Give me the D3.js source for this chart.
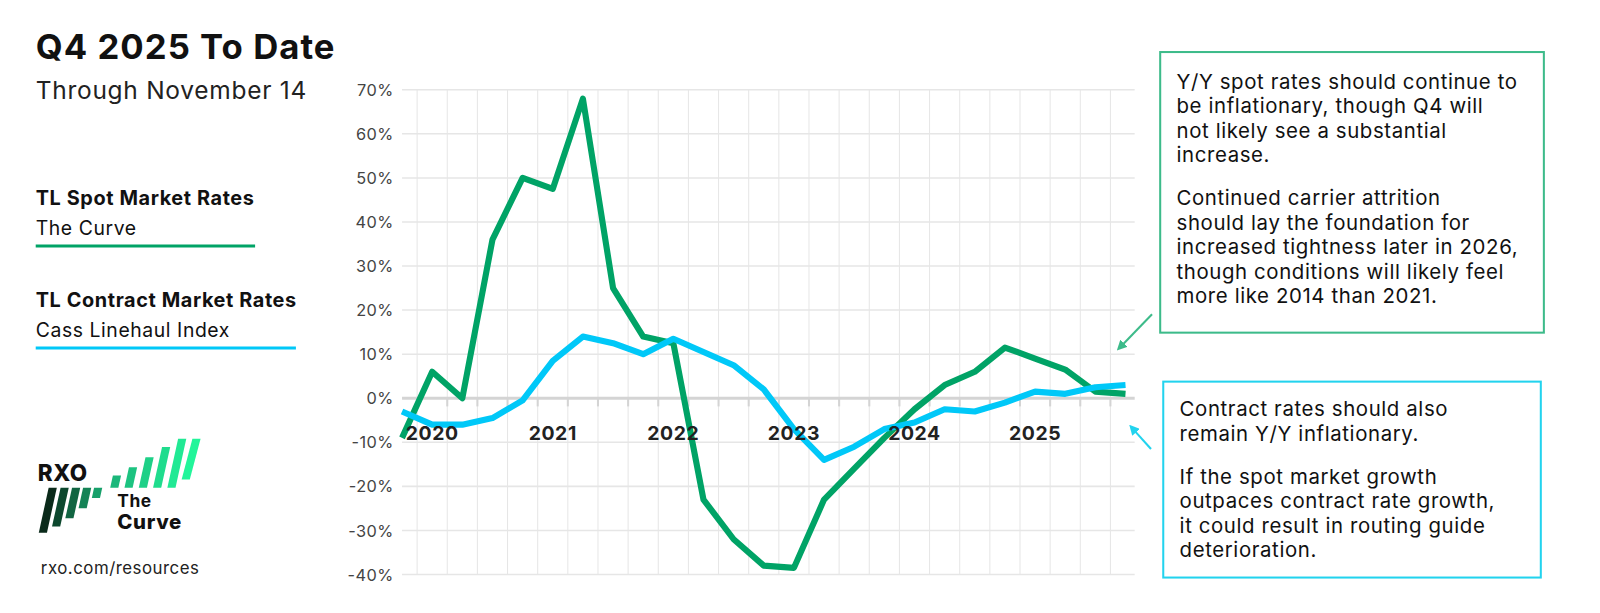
<!DOCTYPE html>
<html>
<head>
<meta charset="utf-8">
<script src="https://cdn.jsdelivr.net/npm/d3@7"></script>
<style>
  body { margin: 0; background: #fff; font-family: "Inter", "Noto Sans", sans-serif; }
  text { letter-spacing: 0.03em; }
</style>
</head>
<body>
<svg id="chart" width="1600" height="613"></svg>
<script>
// quarterly Y/Y change, %
var spot = [-9, 6, 0, 36, 50, 47.5, 68, 25, 14, 12.5, -23, -32, -38, -38.5, -23, -16, -9, -2.5, 3, 6, 11.5, 9, 6.5, 1.5, 1];
var contract = [-3, -6, -6, -4.5, -0.5, 8.5, 14, 12.5, 10, 13.5, 10.5, 7.5, 2, -7, -14, -11, -7, -5.5, -2.5, -3, -1, 1.5, 1, 2.5, 3];
var years = ["2020", "2021", "2022", "2023", "2024", "2025"];
var yearIdx = [1, 5, 9, 13, 17, 21];
var yTicks = [70, 60, 50, 40, 30, 20, 10, 0, -10, -20, -30, -40];

var green = "#00a366", blue = "#00c8f8";
var svg = d3.select("#chart").append("g").attr("transform", "scale(1.0204)");

var x = d3.scaleLinear().domain([0, 24]).range([394, 1103]);
var y = d3.scaleLinear().domain([-40, 70]).range([563, 88]);

// grid
var g = svg.append("g");
g.selectAll("line.v").data(d3.range(24)).enter().append("line")
    .attr("x1", function(d) { return x(d + 0.5); })
    .attr("x2", function(d) { return x(d + 0.5); })
    .attr("y1", y(70)).attr("y2", y(-40))
    .attr("stroke", "#e6e6e6").attr("stroke-width", 1);
g.selectAll("line.h").data(yTicks).enter().append("line")
    .attr("x1", x(0)).attr("x2", 1112)
    .attr("y1", function(d) { return y(d); })
    .attr("y2", function(d) { return y(d); })
    .attr("stroke", function(d) { return d === 0 ? "#d4d4d4" : "#e6e6e6"; })
    .attr("stroke-width", function(d) { return d === 0 ? 3 : 1.5; });
g.selectAll("line.t").data(d3.range(24)).enter().append("line")
    .attr("x1", function(d) { return x(d + 0.5); })
    .attr("x2", function(d) { return x(d + 0.5); })
    .attr("y1", y(0)).attr("y2", y(0) + 8)
    .attr("stroke", "#d4d4d4").attr("stroke-width", 2);

g.selectAll("text.y").data(yTicks).enter().append("text")
    .attr("x", 386).attr("y", function(d) { return y(d) + 6; })
    .attr("text-anchor", "end").attr("font-size", 16).attr("fill", "#444")
    .text(function(d) { return d + "%"; });

// lines
var line = d3.line().x(function(d, i) { return x(i); }).y(function(d) { return y(d); });
svg.append("path").datum(spot).attr("d", line).attr("fill", "none")
    .attr("stroke", green).attr("stroke-width", 6).attr("stroke-linejoin", "round");
svg.append("path").datum(contract).attr("d", line).attr("fill", "none")
    .attr("stroke", blue).attr("stroke-width", 6).attr("stroke-linejoin", "round");

svg.selectAll("text.yr").data(years).enter().append("text")
    .attr("x", function(d, i) { return x(yearIdx[i]); }).attr("y", 431)
    .attr("text-anchor", "middle").attr("font-size", 19).attr("font-weight", 700)
    .attr("fill", "#222").text(function(d) { return d; });

// titles and legend
function txt(s, xx, yy, size, weight, fill) {
  return svg.append("text").attr("x", xx).attr("y", yy).attr("font-size", size)
    .attr("font-weight", weight || 400).attr("fill", fill || "#111").text(s);
}
txt("Q4 2025 To Date", 35, 58, 34, 700);
txt("Through November 14", 35, 97, 24, 400, "#222");
txt("TL Spot Market Rates", 35, 201, 19.5, 700);
txt("The Curve", 35, 230, 19, 400);
svg.append("line").attr("x1", 35).attr("x2", 250).attr("y1", 241).attr("y2", 241)
    .attr("stroke", green).attr("stroke-width", 3);
txt("TL Contract Market Rates", 35, 301, 19.5, 700);
txt("Cass Linehaul Index", 35, 330, 19, 400);
svg.append("line").attr("x1", 35).attr("x2", 290).attr("y1", 341).attr("y2", 341)
    .attr("stroke", blue).attr("stroke-width", 3);

// logo
txt("RXO", 37, 471, 22, 800, "#111");
var darkBot = [522, 516, 508, 498, 488];
svg.selectAll("polygon.dk").data(d3.range(5)).enter().append("polygon")
    .attr("points", function(i) {
      var bx = 38 + i * 13, top = 478, bot = darkBot[i], s = (bot - top) * 0.22;
      return [[bx + s, top], [bx + s + 8, top], [bx + 8, bot], [bx, bot]].join(" ");
    })
    .attr("fill", function(i) { return d3.interpolateRgb("#0a2a1a", "#17a06a")(i / 4); });
var liteTop = [466, 458, 448, 438, 430, 430];
svg.selectAll("polygon.lt").data(d3.range(6)).enter().append("polygon")
    .attr("points", function(i) {
      var bx = 108 + i * 14, top = liteTop[i], bot = 478, s = (bot - top) * 0.22;
      if (i === 5) bot = 470;
      return [[bx + s, top], [bx + s + 8, top], [bx + 8, bot], [bx, bot]].join(" ");
    })
    .attr("fill", function(i) { return d3.interpolateRgb("#1bb77a", "#22f59a")(i / 5); });
txt("The", 115, 497, 17, 700);
txt("Curve", 115, 518, 20, 800);
txt("rxo.com/resources", 40, 563, 16.5, 400, "#222");

// annotation boxes
svg.append("rect").attr("x", 1137).attr("y", 51).attr("width", 376).attr("height", 275)
    .attr("fill", "#fff").attr("stroke", "#3dbb8a").attr("stroke-width", 2);
svg.append("rect").attr("x", 1140).attr("y", 374).attr("width", 370).attr("height", 192)
    .attr("fill", "#fff").attr("stroke", "#22d3ee").attr("stroke-width", 2);

var note1 = ["Y/Y spot rates should continue to", "be inflationary, though Q4 will",
  "not likely see a substantial", "increase."];
var note2 = ["Continued carrier attrition", "should lay the foundation for",
  "increased tightness later in 2026,", "though conditions will likely feel", "more like 2014 than 2021."];
var note3 = ["Contract rates should also", "remain Y/Y inflationary."];
var note4 = ["If the spot market growth", "outpaces contract rate growth,",
  "it could result in routing guide", "deterioration."];
function block(lines, xx, yy) {
  lines.forEach(function(s, i) { txt(s, xx, yy + i * 24, 20, 400, "#111"); });
}
block(note1, 1153, 87);
block(note2, 1153, 201);
block(note3, 1156, 408);
block(note4, 1156, 474);

// arrows
var defs = svg.append("defs");
[["ag", "#3dbb8a"], ["ab", "#22d3ee"]].forEach(function(a) {
  defs.append("marker").attr("id", a[0]).attr("viewBox", "0 0 10 10")
    .attr("refX", 5).attr("refY", 5).attr("markerWidth", 5).attr("markerHeight", 5)
    .attr("orient", "auto-start-reverse")
    .append("path").attr("d", "M0,0L10,5L0,10z").attr("fill", a[1]);
});
svg.append("line").attr("x1", 1129).attr("y1", 308).attr("x2", 1098).attr("y2", 340)
    .attr("stroke", "#3dbb8a").attr("stroke-width", 2).attr("marker-end", "url(#ag)");
svg.append("line").attr("x1", 1128).attr("y1", 440).attr("x2", 1110).attr("y2", 420)
    .attr("stroke", "#22d3ee").attr("stroke-width", 2).attr("marker-end", "url(#ab)");
</script>
</body>
</html>
